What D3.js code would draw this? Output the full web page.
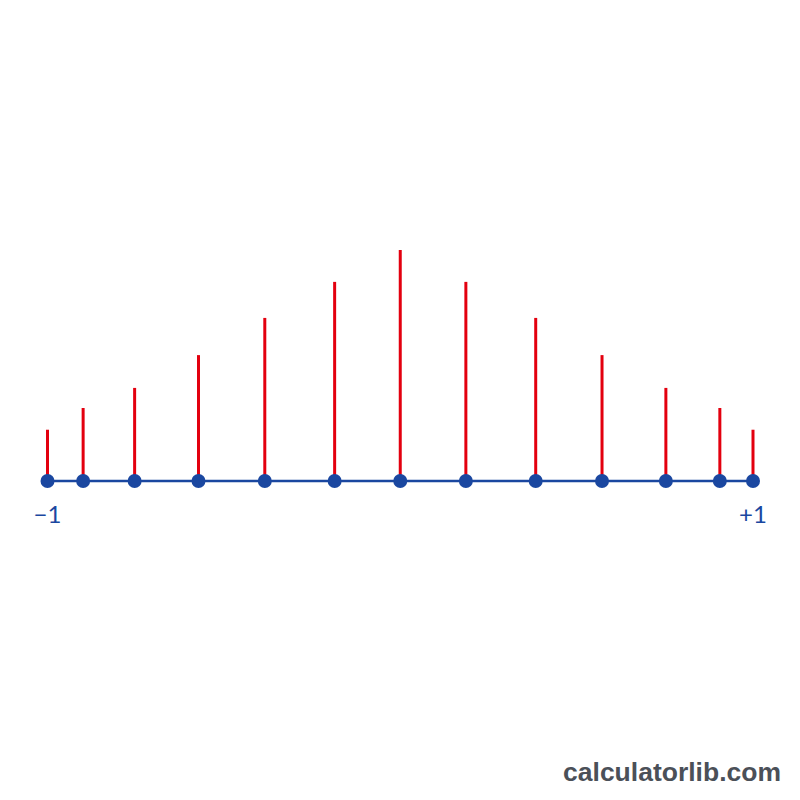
<!DOCTYPE html>
<html lang="en">
<head>
  <meta charset="UTF-8" />
  <title>Quadrature nodes and weights</title>
  <script src="https://d3js.org/d3.v7.min.js"></script>
  <style>
    body { margin: 0; background: #fff; }
    svg { display: block; }
  </style>
</head>
<body>
  <svg id="chart" width="800" height="800"></svg>
  <script>
    // node positions on [-1, 1] and their weights (relative heights)
    const nodes = [-1, -0.899, -0.753, -0.572, -0.384, -0.186, 0, 0.186, 0.384, 0.572, 0.753, 0.906, 1];
    const weights = [0.222, 0.316, 0.403, 0.545, 0.706, 0.862, 1.0, 0.862, 0.706, 0.545, 0.403, 0.316, 0.222];
    const endLabels = ["\u22121", "+1"];

    const svg = d3.select("#chart");

    const x = d3.scaleLinear().domain([-1, 1]).range([47.5, 753]);
    const y = d3.scaleLinear().domain([0, 1]).range([481, 250]);

    const data = nodes.map((n, i) => ({ n, w: weights[i] }));

    // red weight stems
    svg.selectAll("line.stem")
      .data(data)
      .enter().append("line")
      .attr("class", "stem")
      .attr("x1", d => x(d.n))
      .attr("x2", d => x(d.n))
      .attr("y1", y(0))
      .attr("y2", d => y(d.w))
      .attr("stroke", "#e3000f")
      .attr("stroke-width", 3);

    // the interval
    svg.append("line")
      .attr("x1", x(-1)).attr("x2", x(1))
      .attr("y1", y(0)).attr("y2", y(0))
      .attr("stroke", "#1a47a0")
      .attr("stroke-width", 2.5);

    // nodes
    svg.selectAll("circle")
      .data(data)
      .enter().append("circle")
      .attr("cx", d => x(d.n))
      .attr("cy", y(0))
      .attr("r", 7)
      .attr("fill", "#1a47a0");

    svg.selectAll("text.end")
      .data(endLabels)
      .enter().append("text")
      .attr("class", "end")
      .attr("x", (d, i) => x(i === 0 ? -1 : 1))
      .attr("y", 523)
      .attr("text-anchor", "middle")
      .attr("fill", "#1a47a0")
      .style("font-family", "Lato, sans-serif")
      .style("font-size", "24px")
      .text(d => d);

    svg.append("text")
      .attr("x", 781)
      .attr("y", 781)
      .attr("text-anchor", "end")
      .attr("fill", "#4b5058")
      .style("font-family", "'Liberation Sans', Arial, sans-serif")
      .style("font-weight", "bold")
      .style("font-size", "26.5px")
      .text("calculatorlib.com");
  </script>
</body>
</html>
